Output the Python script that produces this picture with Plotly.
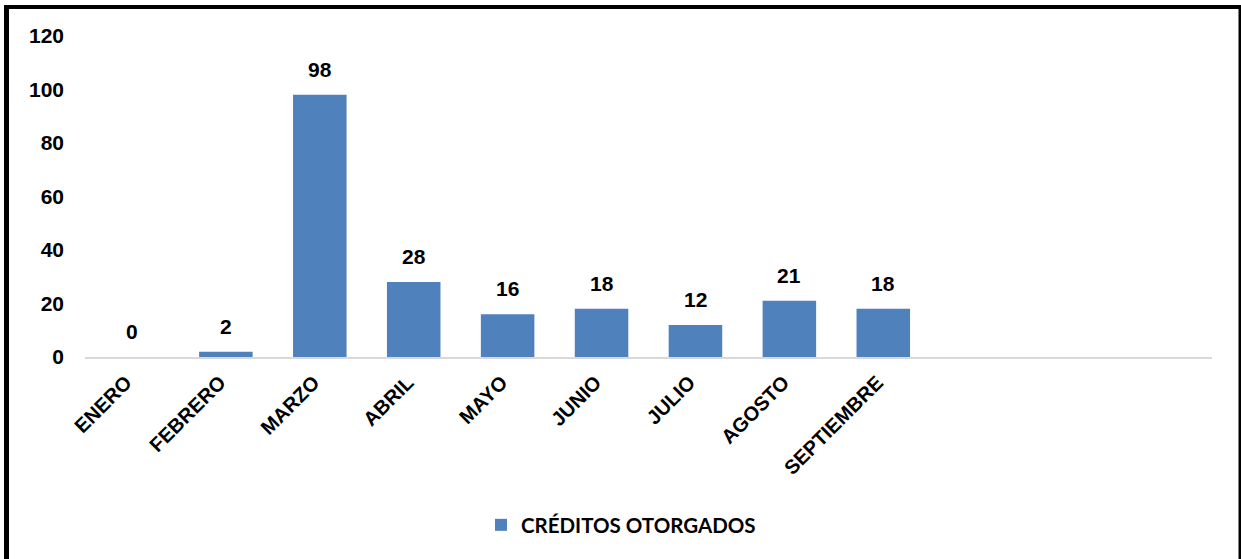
import plotly.graph_objects as go

months = ["ENERO", "FEBRERO", "MARZO", "ABRIL", "MAYO", "JUNIO", "JULIO", "AGOSTO", "SEPTIEMBRE"]
creditos = [0, 2, 98, 28, 16, 18, 12, 21, 18]
n_slots = 12
y_ticks = [0, 20, 40, 60, 80, 100, 120]
series_name = "CRÉDITOS OTORGADOS"

W, H = 1241, 559
L, R, T, B = 85, 1212, 36, 357

positions = list(range(len(months)))

fig = go.Figure()
fig.add_trace(go.Bar(
    x=positions, y=creditos, name=series_name,
    marker=dict(color="#4F81BD", line=dict(width=0)),
    width=0.57,
))

for p, v in zip(positions, creditos):
    fig.add_annotation(x=p, y=v, text=str(v), showarrow=False, yanchor="bottom",
                       yshift=12, font=dict(family="Liberation Sans, Arial", size=21, color="#000000", weight="bold"))

def px_x(px):
    return (px - L) / (R - L)

def px_y(py):
    return (B - py) / (B - T)

# outer frame
fig.add_shape(type="line", xref="paper", yref="paper", x0=px_x(6.5), x1=px_x(6.5), y0=px_y(600), y1=px_y(5), line=dict(color="#000000", width=5))
fig.add_shape(type="line", xref="paper", yref="paper", x0=px_x(4), x1=px_x(1241), y0=px_y(7), y1=px_y(7), line=dict(color="#000000", width=4))
fig.add_shape(type="line", xref="paper", yref="paper", x0=px_x(1240), x1=px_x(1240), y0=px_y(600), y1=px_y(5), line=dict(color="#000000", width=3))

fig.update_layout(
    width=W, height=H,
    margin=dict(l=L, r=W - R, t=T, b=H - B, pad=0),
    paper_bgcolor="#FFFFFF", plot_bgcolor="#FFFFFF",
    bargap=0.43,
    showlegend=True,
    legend=dict(orientation="h", x=px_x(621), xanchor="center", y=px_y(525), yanchor="middle",
                font=dict(family="Lato, Open Sans", size=20.5, color="#000000", weight="bold"),
                bgcolor="rgba(0,0,0,0)"),
    xaxis=dict(range=[-0.5, n_slots - 0.5], tickmode="array", tickvals=positions, ticktext=months,
               tickangle=-45, showgrid=False, zeroline=False, showline=True, linecolor="#D9D9D9", linewidth=2,
               ticks="", ticklabelstandoff=4, ticklabelshift=-6,
               tickfont=dict(family="Liberation Sans, Arial", size=20, color="#000000", weight="bold")),
    yaxis=dict(range=[0, 120], tickmode="array", tickvals=y_ticks, showgrid=False, zeroline=False,
               showline=False, ticks="", ticklabelstandoff=20,
               tickfont=dict(family="Liberation Sans, Arial", size=21, color="#000000", weight="bold")),
)

fig.write_html("out.html", config={"displayModeBar": False},
               post_script="document.body.style.margin='0';document.body.style.overflow='hidden';")
